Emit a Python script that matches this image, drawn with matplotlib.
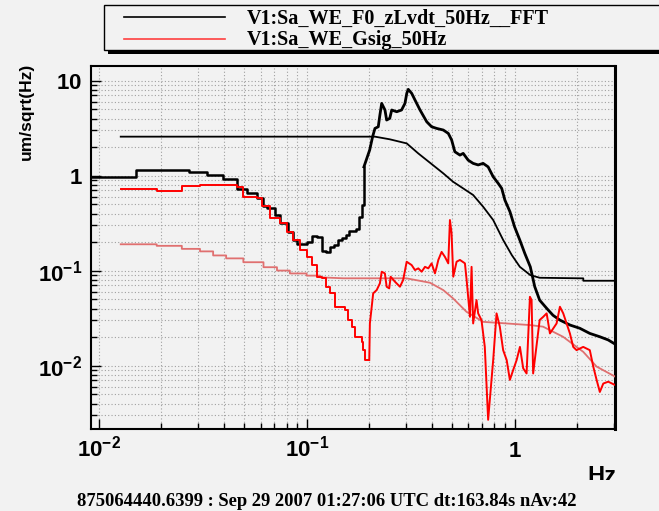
import numpy as np
import matplotlib
matplotlib.use('Agg')
import matplotlib.pyplot as plt
from matplotlib.patches import Rectangle
from matplotlib.lines import Line2D
from matplotlib.ticker import LogLocator, FuncFormatter, NullFormatter

W, H = 659, 511
BG = '#f2f2f2'

# black trace: V1:Sa_WE_F0_zLvdt_50Hz__FFT
fft_f = [0.00916, 0.0151, 0.0272, 0.0333, 0.0397, 0.0461, 0.0515, 0.0575, 0.0619,
         0.0643, 0.0704, 0.0745, 0.0817, 0.0863, 0.0895, 0.0946, 0.1, 0.1057, 0.1117,
         0.118, 0.1233, 0.1294, 0.136, 0.1418, 0.1475, 0.1545, 0.1595, 0.1720, 0.1795,
         0.1846, 0.1885,
         0.201, 0.2075, 0.213, 0.221, 0.225, 0.2295, 0.238, 0.2425, 0.251, 0.2565,
         0.271, 0.286, 0.297, 0.303, 0.308, 0.320, 0.332, 0.351, 0.378, 0.399,
         0.422, 0.454, 0.480, 0.498, 0.516, 0.546, 0.566, 0.598, 0.632, 0.668,
         0.706, 0.746, 0.789, 0.834, 0.867, 0.898, 0.95, 1.0, 1.06, 1.12, 1.19,
         1.25, 1.32, 1.43, 1.53, 1.65, 1.85, 2.06, 2.30, 2.57, 2.82, 3.03]
fft_v = [0.976, 1.148, 1.10, 1.03, 0.916, 0.72, 0.653, 0.578, 0.483,
         0.454, 0.386, 0.315, 0.257, 0.21, 0.191, 0.19, 0.202, 0.232, 0.228,
         0.162, 0.157, 0.176, 0.188, 0.21, 0.221, 0.238, 0.262, 0.273, 0.37,
         0.49, 1.24,
         1.87, 2.57, 3.15, 3.28, 4.35, 5.78, 4.92, 3.86, 4.02, 4.92,
         4.72, 4.92, 5.78, 7.37, 8.12, 7.37, 6.26, 4.92, 3.70, 3.28,
         3.15, 3.03, 2.79, 2.38, 1.79, 1.65, 1.72, 1.46, 1.35, 1.30,
         1.35, 1.24, 0.976, 0.832, 0.736, 0.555, 0.418, 0.29, 0.21, 0.152, 0.110,
         0.068, 0.049, 0.040, 0.034, 0.0303, 0.0268, 0.0248, 0.0219, 0.0202, 0.0187, 0.0170]

# black reference trace (smooth)
ref_f = [0.01276, 0.213, 0.251, 0.303, 0.344, 0.392, 0.454, 0.506, 0.566, 0.632,
         0.706, 0.789, 0.882, 0.97, 1.06, 1.19, 1.32, 2.14, 2.14, 3.04]
ref_v = [2.58, 2.58, 2.42, 2.19, 1.72, 1.37, 1.06, 0.865, 0.736, 0.627,
         0.472, 0.342, 0.21, 0.146, 0.110, 0.090, 0.0844, 0.0832, 0.0785, 0.0785]

# red trace: V1:Sa_WE_Gsig_50Hz
gsig_f = [0.01276, 0.0190, 0.0251, 0.0307, 0.0461, 0.0495, 0.0575, 0.0608, 0.0667,
          0.0745, 0.0802, 0.0863, 0.0929, 0.1, 0.1057, 0.1117, 0.118, 0.124,
          0.1294, 0.1368, 0.1528, 0.1585, 0.1644, 0.1706, 0.1837, 0.187, 0.1906,
          0.2, 0.2014, 0.2089, 0.2172, 0.225, 0.2296, 0.2378, 0.2425, 0.2495,
          0.2535, 0.266, 0.281, 0.291, 0.3027, 0.3198, 0.3318, 0.3443, 0.3573,
          0.3707, 0.3846, 0.399, 0.414, 0.422, 0.4297, 0.4457, 0.4624, 0.4797,
          0.4887, 0.4977, 0.507, 0.526, 0.546, 0.577, 0.588, 0.61, 0.621, 0.632,
          0.656, 0.668, 0.693, 0.719, 0.746, 0.789, 0.819, 0.849, 0.881, 0.916,
          0.949, 0.984, 1.023, 1.061, 1.10, 1.142, 1.185, 1.207, 1.228, 1.32,
          1.374, 1.426, 1.479, 1.592, 1.652, 1.714, 1.778, 1.845, 1.914, 1.986,
          2.138, 2.30, 2.39, 2.48, 2.57, 2.67, 2.82, 3.03]
gsig_v = [0.72, 0.695, 0.78, 0.79, 0.755, 0.593, 0.58, 0.48, 0.356,
          0.315, 0.257, 0.21, 0.165, 0.14, 0.115, 0.0865, 0.083, 0.068,
          0.0578, 0.0418, 0.0386, 0.0303, 0.0258, 0.0202, 0.0179, 0.0146, 0.0115,
          0.0115, 0.0279, 0.0578, 0.0627, 0.0737, 0.0977, 0.0939, 0.0679, 0.0653,
          0.0865, 0.0766, 0.0679, 0.0798, 0.1245, 0.1148, 0.1017, 0.106, 0.0977,
          0.110, 0.106, 0.1197, 0.0939, 0.110, 0.130, 0.158, 0.140, 0.1197,
          0.342, 0.248, 0.0865, 0.1245, 0.130, 0.1197, 0.0798, 0.0328, 0.110, 0.0279,
          0.0492, 0.0356, 0.0303, 0.0158, 0.0027, 0.0115, 0.0356, 0.0258, 0.0146, 0.0115,
          0.0071, 0.0090, 0.0115, 0.0158, 0.0094, 0.0083, 0.0532, 0.0492, 0.0083, 0.0303,
          0.0328, 0.0356, 0.0219, 0.0279, 0.0418, 0.0356, 0.0279, 0.0219, 0.0158, 0.0146,
          0.0158, 0.0146, 0.0098, 0.0071, 0.0053, 0.0065, 0.0068, 0.0063]

# light red reference trace (smooth)
gref_f = [0.01276, 0.0190, 0.0190, 0.0251, 0.0251, 0.0307, 0.0307, 0.0355, 0.0355,
          0.041, 0.041, 0.0496, 0.0496, 0.062, 0.062, 0.072, 0.072, 0.083, 0.083,
          0.1, 0.1, 0.116, 0.116, 0.15, 0.302, 0.392, 0.454, 0.506, 0.587, 0.706,
          1.19, 1.37, 1.71, 2.14, 2.48, 3.04]
gref_v = [0.19, 0.19, 0.183, 0.183, 0.17, 0.17, 0.16, 0.16, 0.145,
          0.145, 0.135, 0.135, 0.123, 0.123, 0.109, 0.109, 0.1005, 0.1005, 0.0937,
          0.0937, 0.0889, 0.0889, 0.0853, 0.0833, 0.0833, 0.0748, 0.0626, 0.0512, 0.037, 0.029,
          0.0268, 0.0258, 0.0202, 0.014, 0.0098, 0.0077]

legend_names = ['V1:Sa_WE_F0_zLvdt_50Hz__FFT', 'V1:Sa_WE_Gsig_50Hz']
status_text = '875064440.6399 : Sep 29 2007 01:27:06 UTC dt:163.84s nAv:42'

plt.rcParams['mathtext.fontset'] = 'custom'
plt.rcParams['mathtext.rm'] = 'Liberation Sans'
plt.rcParams['mathtext.bf'] = 'Liberation Sans:bold'

fig = plt.figure(figsize=(W / 100, H / 100), dpi=100, facecolor=BG)
ax = fig.add_axes([90.7 / W, 1 - 429 / H, (615 - 90.7) / W, (429 - 66) / H], facecolor=BG)
ax.set_xscale('log')
ax.set_yscale('log')

# low frequencies drawn as histogram steps, the dense part as a plain line
nb = 31  # black: steps up to 0.19 Hz
nr = 28  # red: steps up to 0.2 Hz
ax.plot(ref_f, ref_v, color='black', lw=1.3, zorder=3)
ax.plot(gref_f, gref_v, color='#e07070', lw=1.3, zorder=3)
ax.plot(fft_f[:nb], fft_v[:nb], color='black', lw=1.8, drawstyle='steps-post', zorder=4)
ax.plot(fft_f[nb - 1:], fft_v[nb - 1:], color='black', lw=2.0, zorder=4)
ax.plot(gsig_f[:nr], gsig_v[:nr], color='#ff0000', lw=1.4, drawstyle='steps-post', zorder=5)
ax.plot(gsig_f[nr - 1:], gsig_v[nr - 1:], color='#ff0000', lw=1.4, zorder=5)

ax.set_xlim(0.00915, 3.04)
ax.set_ylim(0.00216, 14.3)

for a in (ax.xaxis, ax.yaxis):
    a.set_major_locator(LogLocator(base=10, numticks=20))
    a.set_minor_locator(LogLocator(base=10, subs=np.arange(2, 10), numticks=20))
    a.set_minor_formatter(NullFormatter())


def fmt(v, pos):
    e = int(round(np.log10(v)))
    if e == 0:
        return r'$\mathbf{1}$'
    if e == 1:
        return r'$\mathbf{10}$'
    return r'$\mathbf{10^{%d}}$' % e


ax.xaxis.set_major_formatter(FuncFormatter(fmt))
ax.yaxis.set_major_formatter(FuncFormatter(fmt))
ax.tick_params(which='both', direction='in', top=False, right=False, width=1, labelsize=16)
ax.tick_params(which='major', length=7.5)
ax.tick_params(which='minor', length=4.5)
ax.tick_params(axis='y', pad=6)
ax.tick_params(axis='x', pad=20)
for lab in ax.get_xticklabels():
    lab.set_va('baseline')

ax.grid(True, which='both', color='#a0a0a0', linestyle=(0, (1, 2)), lw=0.8)
for s in ax.spines.values():
    s.set_linewidth(1.5)
ax.spines['right'].set_linewidth(2.2)

fig.text(26 / W, 1 - 111 / H, 'um/sqrt(Hz)', rotation=90, ha='center', va='center',
         fontsize=12.5, fontweight='bold', family='Liberation Sans')
fig.text(616 / W, 1 - 483 / H, 'Hz', ha='right', va='baseline', fontsize=17,
         fontweight='bold', family='Liberation Sans', zorder=1)
fig.patches.append(Rectangle((0, 0), 1, 1 - 480 / H, transform=fig.transFigure,
                             facecolor=BG, edgecolor='none', zorder=2))
fig.text(77 / W, 1 - 506 / H, status_text, ha='left', va='baseline', fontsize=13.4,
         fontweight='bold', family='Liberation Serif', zorder=3)

# legend box with shadow
fig.patches.append(Rectangle((108 / W, 1 - 54 / H), 560 / W, 48 / H, transform=fig.transFigure,
                             facecolor='black', edgecolor='none', zorder=4))
fig.patches.append(Rectangle((104 / W, 1 - 50 / H), 560 / W, 45 / H, transform=fig.transFigure,
                             facecolor=BG, edgecolor='black', lw=1, zorder=5))
for yy, col, name in [(17.5, 'black', legend_names[0]), (39.5, '#ff4040', legend_names[1])]:
    fig.lines.append(Line2D([124 / W, 225 / W], [1 - yy / H, 1 - yy / H], transform=fig.transFigure,
                            color=col, lw=1.2, zorder=6))
    fig.text(247 / W, 1 - (yy + 6) / H, name, ha='left', va='baseline', fontsize=14.5,
             fontweight='bold', family='Liberation Serif', zorder=6)

fig.savefig('out.png', dpi=100, facecolor=BG)
